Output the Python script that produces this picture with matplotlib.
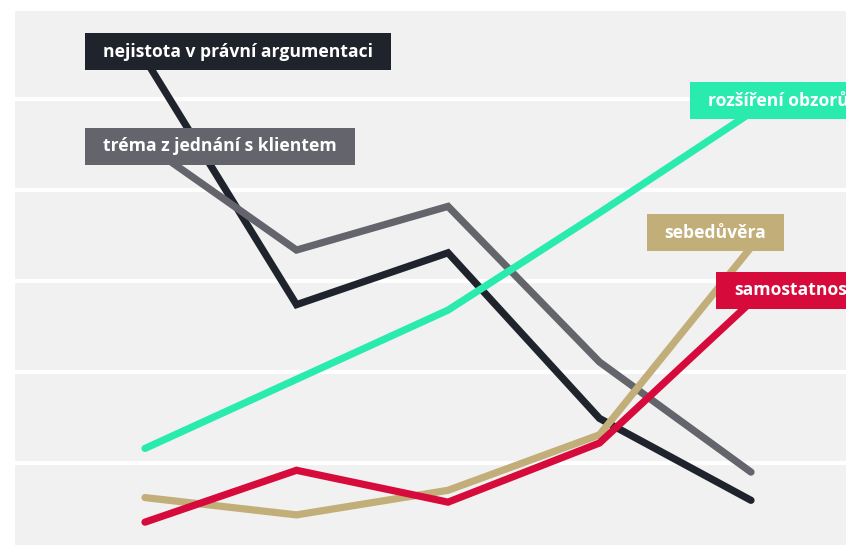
import matplotlib
matplotlib.use("Agg")
import matplotlib.pyplot as plt
from matplotlib.patches import Rectangle

# ---- data ----
waves = [0, 1, 2, 3, 4]
nejistota = [54.4, 27.4, 33.1, 14.9, 5.9]
trema = [45.1, 33.4, 38.2, 21.1, 9.0]
obzory = [11.6, 19.2, 26.8, 37.5, 48.5]
sebeduvera = [6.2, 4.3, 7.0, 13.1, 33.7]
samostatnost = [3.5, 9.2, 5.7, 12.2, 27.7]

series_names = ["nejistota v právní argumentaci", "tréma z jednání s klientem",
                "rozšíření obzorů", "sebedůvěra", "samostatnost"]
series_values = [nejistota, trema, obzory, sebeduvera, samostatnost]
colors = ["#1f232b", "#64656c", "#2aebae", "#c2ae79", "#d60a3b"]

# label anchors (left edge of text, vertical centre), data coords
label_pos = [(-0.277, 55.2), (-0.277, 44.8), (3.715, 49.8), (3.43, 35.3), (3.89, 29.0)]

BG = "#f1f1f1"

fig = plt.figure(figsize=(8.46, 5.45), dpi=100)
ax = fig.add_axes([15 / 846, 0, 831 / 846, 534 / 545])
ax.set_facecolor(BG)
for s in ax.spines.values():
    s.set_visible(False)
ax.set_xticks([])
ax.set_yticks([])
ax.set_xlim(-0.858, 4.627)
ax.set_ylim(0.99, 59.67)

for g in [10, 20, 30, 40, 50]:
    ax.axhline(g, color="white", lw=3, zorder=1)

for vals, c in zip(series_values, colors):
    ax.plot(waves, vals, color=c, lw=5.2, solid_capstyle="round",
            solid_joinstyle="miter", zorder=2)

texts = []
for name, (lx, ly), c in zip(series_names, label_pos, colors):
    t = ax.text(lx, ly, name, color="white", fontsize=12.6, fontweight="bold",
                family="Open Sans", ha="left", va="center", zorder=6, clip_on=True)
    texts.append((t, c))

# label boxes: text extent plus fixed padding, clipped at the plot edge
fig.canvas.draw()
r = fig.canvas.get_renderer()
inv = ax.transData.inverted()
for t, c in texts:
    bb = t.get_window_extent(r)
    cx, cy = ax.transData.transform(t.get_position())
    x0, y0 = inv.transform((bb.x0 - 18, cy - 18.5))
    x1, y1 = inv.transform((bb.x1 + 18, cy + 18.5))
    ax.add_patch(Rectangle((x0, y0), x1 - x0, y1 - y0, facecolor=c,
                           edgecolor="none", zorder=5))

fig.savefig("out.png", dpi=100)
